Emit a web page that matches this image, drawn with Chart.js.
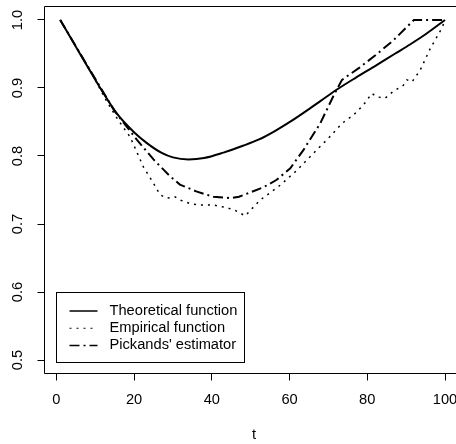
<!DOCTYPE html>
<html lang="en">
<head>
<meta charset="UTF-8">
<title>Pickands dependence function</title>
<script src="https://cdn.jsdelivr.net/npm/chart.js@4"></script>
<style>
  body { margin: 0; background: #fff; }
  canvas { display: block; }
</style>
</head>
<body>
<canvas id="chart" width="456" height="444"></canvas>
<script>
// axis ticks
const xTicks = [0, 20, 40, 60, 80, 100];
const yTicks = [0.5, 0.6, 0.7, 0.8, 0.9, 1.0];

// theoretical function
const theoT = [1, 5, 8.7, 11.3, 15.5, 20, 23.3, 27, 30, 34, 38, 43, 48, 52, 56, 60.6, 65, 68, 72, 77, 82.5, 87, 91, 95, 100];
const theoA = [1.0, 0.961, 0.925, 0.900, 0.863, 0.835, 0.819, 0.805, 0.798, 0.795, 0.797, 0.805, 0.815, 0.824, 0.836, 0.852, 0.869, 0.881, 0.897, 0.915, 0.934, 0.950, 0.964, 0.979, 1.0];

// empirical function
const empT = [1, 8.7, 13, 16, 19, 22.4, 25, 26.7, 28.4, 30.5, 32, 34.4, 37, 40.4, 43.9, 46, 48.6, 52.4, 57.6, 61.9, 67, 70, 73.5, 76.4, 79, 81.2, 82.5, 84.6, 86.7, 89.3, 90.2, 91.5, 93.6, 96.2, 99.2, 100];
const empA = [1.0, 0.926, 0.880, 0.852, 0.828, 0.784, 0.760, 0.743, 0.738, 0.740, 0.735, 0.730, 0.728, 0.728, 0.724, 0.720, 0.712, 0.735, 0.757, 0.779, 0.809, 0.826, 0.848, 0.860, 0.875, 0.892, 0.887, 0.885, 0.895, 0.904, 0.912, 0.909, 0.926, 0.958, 0.988, 1.0];

// Pickands' estimator
const pickT = [1, 8.7, 15, 20.7, 25, 29.3, 31.8, 36, 40.4, 45, 47, 53.3, 56.7, 60.2, 63.6, 67.9, 71.7, 73.5, 78, 82.5, 86.7, 92, 100];
const pickA = [1.0, 0.926, 0.866, 0.824, 0.795, 0.770, 0.758, 0.748, 0.740, 0.738, 0.740, 0.754, 0.765, 0.782, 0.809, 0.848, 0.893, 0.912, 0.930, 0.950, 0.970, 1.0, 1.0];

const FONT = '"Liberation Sans", Arial, sans-serif';
const FSIZE = 14.67;
Chart.defaults.font.family = FONT;
Chart.defaults.font.size = FSIZE;
Chart.defaults.color = '#000';

const pts = (ts, vs) => ts.map((t, i) => ({ x: t, y: vs[i] }));

// box, rotated y labels and the legend, R style
const rFrame = {
    id: 'rFrame',
    afterDraw(chart) {
        const { ctx, chartArea: a, scales: { x, y } } = chart;
        ctx.save();
        ctx.strokeStyle = '#000';
        ctx.lineWidth = 1;
        ctx.setLineDash([]);
        ctx.beginPath();
        ctx.moveTo(a.right + 5, a.top);
        ctx.lineTo(a.left, a.top);
        ctx.lineTo(a.left, a.bottom);
        ctx.lineTo(a.right + 5, a.bottom);
        ctx.stroke();

        ctx.font = FSIZE + 'px ' + FONT;
        ctx.fillStyle = '#000';
        ctx.textAlign = 'center';
        ctx.textBaseline = 'middle';
        yTicks.forEach(v => {
            ctx.save();
            ctx.translate(18, y.getPixelForValue(v));
            ctx.rotate(-Math.PI / 2);
            ctx.fillText(v.toFixed(1), 0, 0);
            ctx.restore();
        });

        // legend box at (0, 0.6)
        const lx = Math.round(x.getPixelForValue(0)) + 0.5;
        const ly = Math.round(y.getPixelForValue(0.6)) + 0.5;
        ctx.strokeRect(lx, ly, 188, 70);
        ctx.textAlign = 'left';
        chart.data.datasets.forEach((ds, i) => {
            const ry = ly + 18.5 + i * 17.2;
            ctx.save();
            ctx.lineWidth = ds.borderWidth * 0.75;
            ctx.setLineDash(ds.borderDash || []);
            ctx.beginPath();
            ctx.moveTo(lx + 13, ry);
            ctx.lineTo(lx + 41, ry);
            ctx.stroke();
            ctx.restore();
            ctx.fillText(ds.label, lx + 53, ry);
        });

        // axis title, centred on the full R plot region
        ctx.textAlign = 'center';
        ctx.fillText('t', 254, 435);
        ctx.restore();
    }
};

new Chart(document.getElementById('chart'), {
    type: 'line',
    data: {
        datasets: [
            { label: 'Theoretical function', data: pts(theoT, theoA), borderColor: '#000', borderWidth: 2, cubicInterpolationMode: 'monotone', pointRadius: 0, fill: false },
            { label: 'Empirical function', data: pts(empT, empA), borderColor: '#000', borderWidth: 1.5, borderDash: [2, 5], tension: 0, pointRadius: 0, fill: false },
            { label: "Pickands' estimator", data: pts(pickT, pickA), borderColor: '#000', borderWidth: 2, borderDash: [10, 4, 2, 4], tension: 0, pointRadius: 0, fill: false }
        ]
    },
    options: {
        responsive: false,
        devicePixelRatio: 1,
        animation: false,
        layout: { padding: { left: 37.5, top: 6.5, right: 0, bottom: 0 } },
        plugins: { legend: { display: false }, tooltip: { enabled: false } },
        scales: {
            x: {
                type: 'linear',
                min: -3.04,
                max: 102.83,
                afterBuildTicks: s => { s.ticks = xTicks.map(v => ({ value: v })); },
                afterFit: s => { s.height = 70.5; s.paddingLeft = 0; s.paddingRight = 0; },
                ticks: { padding: 10.7, color: '#000' },
                grid: { drawOnChartArea: false, tickLength: 7, color: '#000' },
                border: { display: false }
            },
            y: {
                min: 0.48015,
                max: 1.01985,
                afterBuildTicks: s => { s.ticks = yTicks.map(v => ({ value: v })); },
                afterFit: s => { s.width = 7; },
                ticks: { display: false },
                grid: { drawOnChartArea: false, tickLength: 7, color: '#000' },
                border: { display: false }
            }
        }
    },
    plugins: [rFrame]
});
</script>
</body>
</html>
